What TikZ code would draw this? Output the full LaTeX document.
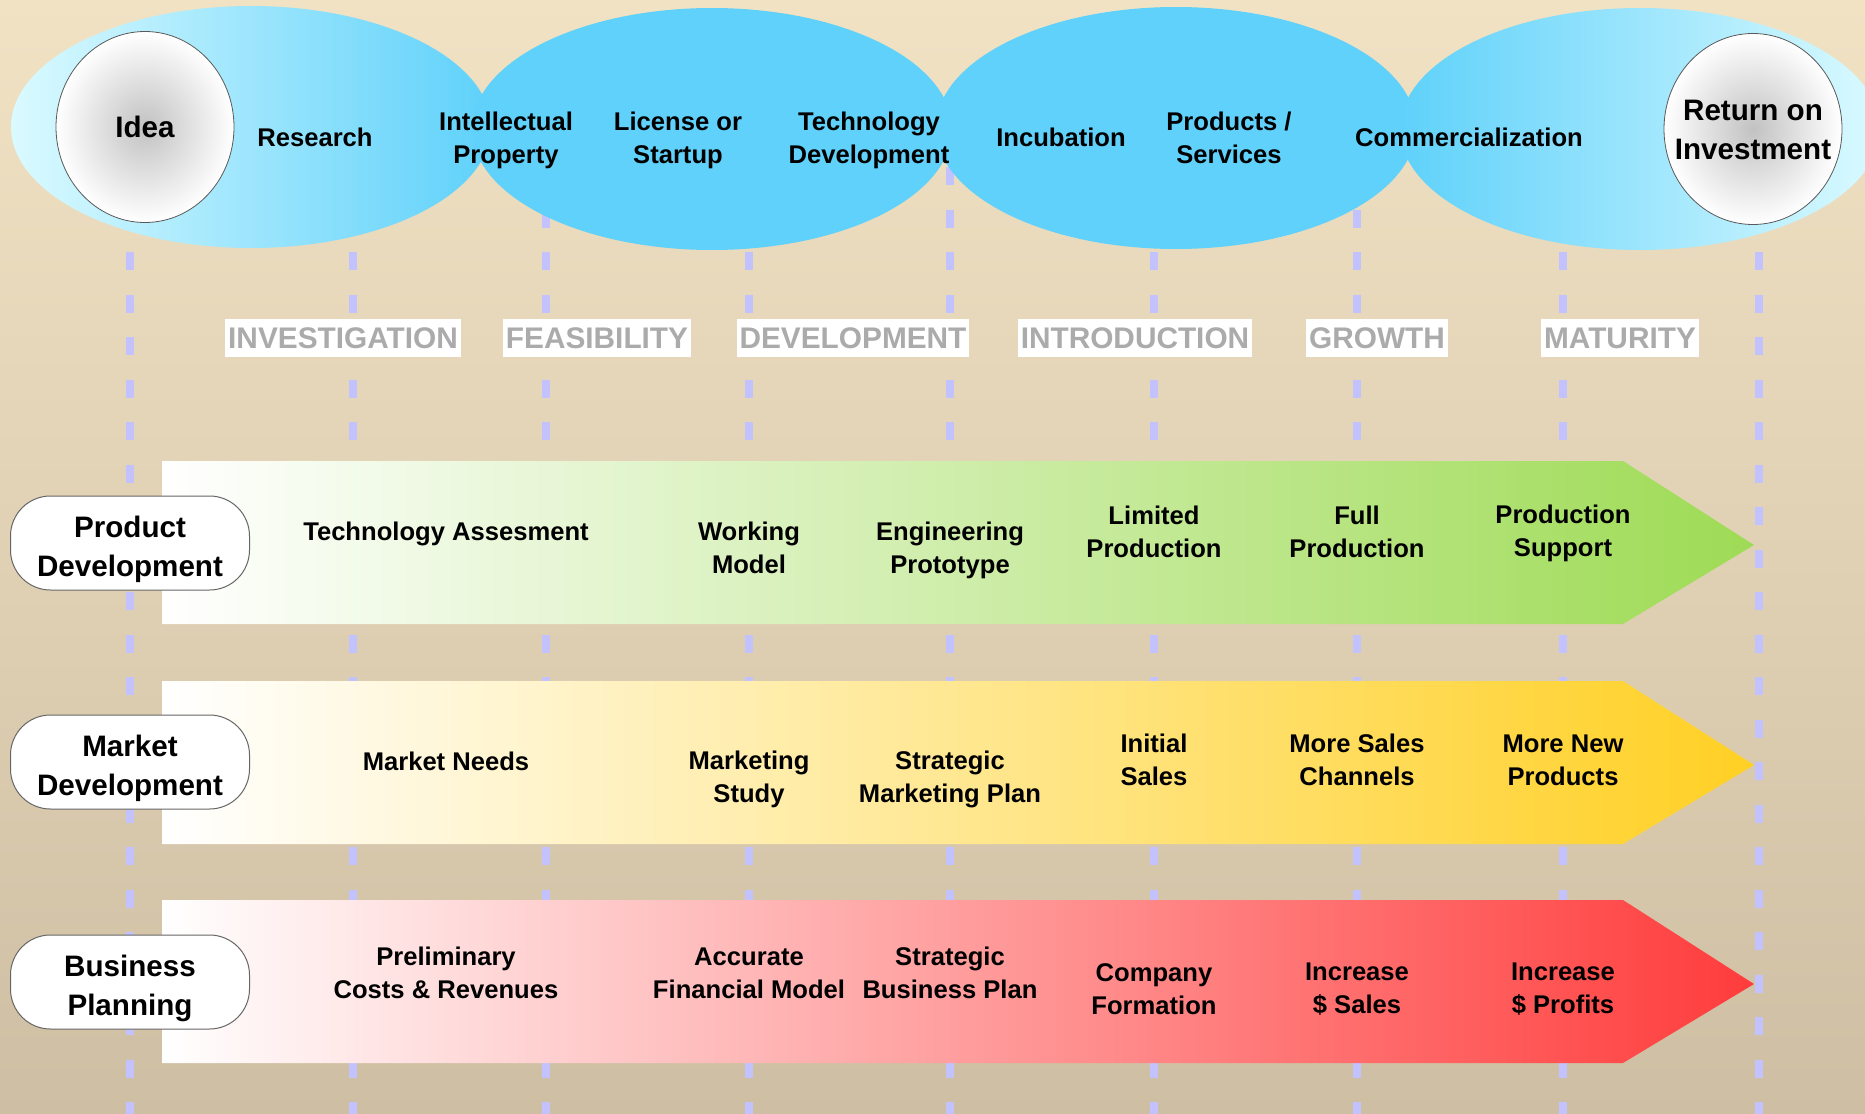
\documentclass[tikz,border=0pt]{standalone}
\usepackage{fontspec}
\setmainfont{Liberation Sans}
\usetikzlibrary{shapes.geometric}

\definecolor{bgtop}{HTML}{F2E2C4}
\definecolor{bgbot}{HTML}{CEBFA4}
\definecolor{guidecol}{HTML}{C2C2FF}
\definecolor{skyblue}{HTML}{5FD1FA}
\definecolor{skypale}{HTML}{DAFAFF}
\definecolor{phasegray}{HTML}{ABABAB}
\definecolor{greenmid}{HTML}{D3EEB3}
\definecolor{greenend}{HTML}{9EDB55}
\definecolor{yellowmid}{HTML}{FFEA9C}
\definecolor{yellowend}{HTML}{FFD024}
\definecolor{redmid}{HTML}{FFA4A4}
\definecolor{redend}{HTML}{FF3C3C}

\newcommand{\cellfont}{\fontsize{12.8}{16.5}\selectfont\bfseries}
\newcommand{\headfont}{\fontsize{14.8}{19.5}\selectfont\bfseries}
\newcommand{\phasefont}{\fontsize{14.9}{17}\selectfont\bfseries}

\tikzset{
  stage/.style={ellipse, minimum width=240pt, minimum height=121pt, inner sep=0pt},
  goal/.style={ellipse, draw=black!65, line width=0.4pt, minimum width=89pt,
    minimum height=95.5pt, inner sep=0pt, inner color=black!24, outer color=white},
  headtext/.style={align=center, font=\headfont},
  toptext/.style={align=center, font=\cellfont},
  celltext/.style={align=center, font=\cellfont},
  phase/.style={fill=white, text=phasegray, font=\phasefont, inner xsep=1.5pt,
    inner ysep=0pt, text height=10.7pt, text depth=0pt, minimum height=19pt},
  rowlabel/.style={rectangle, rounded corners=20pt, draw=black!60, line width=0.5pt,
    fill=white, minimum width=119.5pt, minimum height=47pt},
  guide/.style={guidecol, line width=4.25pt, dash pattern=on 9pt off 12.25pt}
}

\begin{document}
\begin{tikzpicture}[x=0.5pt, y=-0.5pt]
  % Background
  \useasboundingbox (0,0) rectangle (1865,1114);
  \clip (0,0) rectangle (1865,1114);
  \shade[top color=bgtop, bottom color=bgbot] (0,0) rectangle (1865,1114);

  % Dashed guides
  \foreach \x [count=\i] in {130,353,546,749,950,1154,1357,1563,1759} {
    \coordinate (gtop\i) at (\x,167);
    \coordinate (gbot\i) at (\x,1114);
    \draw[guide] (gtop\i) -- (gbot\i);
  }

  % Stage ellipses
  \node[stage, left color=skypale, right color=skyblue] (stage1) at (251,127) {};
  \node[stage, fill=skyblue] (stage2) at (712,129) {};
  \node[stage, fill=skyblue] (stage3) at (1176,128) {};
  \node[stage, left color=skyblue, right color=skypale] (stage4) at (1640,129) {};

  % Start and end
  \node[goal] (idea) at (145,127) {};
  \node[headtext] (ideatext) at (idea.center) {Idea};
  \node[goal] (roi) at (1753,129) {};
  \node[headtext, yshift=-0.6pt] (roitext) at (roi.center) {Return on\\Investment};

  % Stage names
  \node[toptext] (research) at (315,137) {Research};
  \node[toptext] (ip) at (506,140.5) {Intellectual\\Property};
  \node[toptext] (license) at (678,140.5) {License or\\Startup};
  \node[toptext] (techdev) at (869,140.5) {Technology\\Development};
  \node[toptext] (incub) at (1061,137) {Incubation};
  \node[toptext] (products) at (1229,138) {Products /\\Services};
  \node[toptext] (commerc) at (1469,137) {Commercialization};

  % Phases
  \node[phase] (investigation) at (343,338) {INVESTIGATION};
  \node[phase] (feasibility) at (597,338) {FEASIBILITY};
  \node[phase] (development) at (853,338) {DEVELOPMENT};
  \node[phase] (introduction) at (1135,338) {INTRODUCTION};
  \node[phase] (growth) at (1377,338) {GROWTH};
  \node[phase] (maturity) at (1620,338) {MATURITY};

  % Arrow bands
  \foreach \y/\mid/\tip in {461/greenmid/greenend, 681/yellowmid/yellowend, 900/redmid/redend}
    \shade[left color=white, middle color=\mid, right color=\tip]
      (162,\y) -- (1623,\y) -- (1754,{\y+84}) -- (1623,{\y+163}) -- (162,{\y+163}) -- cycle;

  % Row labels
  \node[rowlabel] (prodlab) at (130,543) {};
  \node[headtext, yshift=-3pt] (prodtext) at (prodlab.center) {Product\\Development};
  \node[rowlabel] (marklab) at (130,762) {};
  \node[headtext, yshift=-3pt] (marktext) at (marklab.center) {Market\\Development};
  \node[rowlabel] (buslab) at (130,982) {};
  \node[headtext, yshift=-3pt] (bustext) at (buslab.center) {Business\\Planning};

  % Product row
  \node[celltext] (techassess) at (446,534) {Technology Assesment};
  \node[celltext] (working) at (749,548) {Working\\Model};
  \node[celltext] (engproto) at (950,550) {Engineering\\Prototype};
  \node[celltext] (limited) at (1154,532) {Limited\\Production};
  \node[celltext] (fullprod) at (1357,532) {Full\\Production};
  \node[celltext] (prodsupp) at (1563,533) {Production\\Support};

  % Market row
  \node[celltext] (mneeds) at (446,761) {Market Needs};
  \node[celltext] (mstudy) at (749,779) {Marketing\\Study};
  \node[celltext] (smplan) at (950,779) {Strategic\\Marketing Plan};
  \node[celltext] (isales) at (1154,760) {Initial\\Sales};
  \node[celltext] (msales) at (1357,760) {More Sales\\Channels};
  \node[celltext] (mnew) at (1563,760) {More New\\Products};

  % Business row
  \node[celltext] (prelim) at (446,973) {Preliminary\\Costs \& Revenues};
  \node[celltext] (accurate) at (749,973) {Accurate\\Financial Model};
  \node[celltext] (sbplan) at (950,973) {Strategic\\Business Plan};
  \node[celltext] (company) at (1154,989) {Company\\Formation};
  \node[celltext] (incsales) at (1357,989) {Increase\\\$ Sales};
  \node[celltext] (incprof) at (1563,989) {Increase\\\$ Profits};
\end{tikzpicture}
\end{document}
